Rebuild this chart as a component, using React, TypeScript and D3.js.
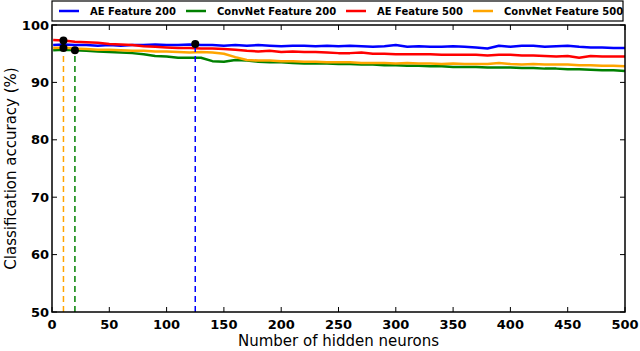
import * as d3 from "d3";

// nombre de neurones cachés (échantillonné tous les 10)
const neurons = [1, 10, 20, 30, 40, 50, 60, 70, 80, 90, 100, 110, 120, 130, 140, 150, 160, 170, 180, 190, 200,
  210, 220, 230, 240, 250, 260, 270, 280, 290, 300, 310, 320, 330, 340, 350, 360, 370, 380, 390, 400,
  410, 420, 430, 440, 450, 460, 470, 480, 490, 500];

const ae200 = [96.5, 96.6, 96.5, 96.5, 96.4, 96.5, 96.4, 96.5, 96.5, 96.6, 96.5, 96.5, 96.6, 96.5, 96.5, 96.4, 96.5, 96.4, 96.5, 96.4, 96.3,
  96.4, 96.4, 96.3, 96.4, 96.3, 96.4, 96.3, 96.2, 96.3, 96.5, 96.2, 96.3, 96.2, 96.2, 96.3, 96.2, 96.1, 95.9, 96.4, 96.2,
  96.4, 96.4, 96.2, 96.3, 96.4, 96.2, 96.1, 96.1, 96.0, 96.0];

const convnet200 = [95.6, 95.7, 95.6, 95.5, 95.4, 95.3, 95.2, 95.1, 94.9, 94.6, 94.5, 94.3, 94.3, 94.3, 93.7, 93.6, 93.9, 93.8, 93.6, 93.5, 93.5,
  93.4, 93.3, 93.3, 93.3, 93.2, 93.2, 93.1, 93.1, 93.0, 93.0, 92.9, 92.9, 92.8, 92.8, 92.7, 92.7, 92.7, 92.6, 92.6, 92.6,
  92.5, 92.5, 92.4, 92.4, 92.3, 92.3, 92.2, 92.1, 92.1, 92.0];

const ae500 = [97.4, 97.3, 97.1, 97.0, 96.9, 96.7, 96.6, 96.5, 96.3, 96.2, 96.1, 96.0, 96.0, 95.9, 95.9, 95.8, 95.7, 95.5, 95.4, 95.5, 95.3,
  95.4, 95.3, 95.3, 95.2, 95.1, 95.1, 95.2, 95.0, 95.0, 94.9, 94.9, 94.9, 94.9, 94.8, 94.8, 94.8, 94.8, 94.7, 94.8, 94.8,
  94.7, 94.7, 94.6, 94.5, 94.6, 94.3, 94.6, 94.5, 94.5, 94.5];

const convnet500 = [96.0, 96.1, 95.9, 95.8, 95.7, 95.7, 95.6, 95.5, 95.5, 95.4, 95.4, 95.3, 95.2, 95.3, 95.2, 95.0, 94.4, 93.9, 93.8, 93.8, 93.7,
  93.7, 93.6, 93.6, 93.5, 93.5, 93.5, 93.4, 93.4, 93.4, 93.3, 93.4, 93.3, 93.3, 93.2, 93.3, 93.2, 93.2, 93.2, 93.4, 93.2,
  93.1, 93.2, 93.1, 93.1, 93.1, 93.0, 93.0, 92.9, 92.9, 92.8];

const seriesNames = ["AE Feature 200", "ConvNet Feature 200", "AE Feature 500", "ConvNet Feature 500"];
const seriesColors = ["#0000ff", "#008000", "#ff0000", "#ffa500"];
const seriesValues = [ae200, convnet200, ae500, convnet500];

// meilleurs points (maximum de chaque courbe)
const bestX = [125, 20, 10, 10];
const bestY = [96.7, 95.6, 97.3, 96.0];
// la ligne rouge est cachée sous l'orange (même x)
const dashedSeries = [0, 1, 3];

const xTicks = [0, 50, 100, 150, 200, 250, 300, 350, 400, 450, 500];
const yTicks = [50, 60, 70, 80, 90, 100];

const width = 640;
const height = 351;
const margin = { top: 25, right: 15, bottom: 39, left: 52 };
const font = "'DejaVu Sans', sans-serif";

export default function App() {
  const x = d3.scaleLinear().domain([0, 500]).range([margin.left, width - margin.right]);
  const y = d3.scaleLinear().domain([50, 100]).range([height - margin.bottom, margin.top]);

  const line = d3.line<number>()
    .x((_, i) => x(neurons[i]))
    .y(d => y(d));

  const legendX = [59, 186, 346, 473];

  return (
    <svg width={width} height={height} style={{ position: "absolute", left: 0, top: 0 }} fontFamily={font}>
      <rect width={width} height={height} fill="white" />

      {/* courbes */}
      {seriesValues.map((vals, i) => (
        <path key={i} d={line(vals) ?? ""} fill="none" stroke={seriesColors[i]} strokeWidth={2.5} strokeLinejoin="round" />
      ))}

      {/* lignes pointillées des meilleurs points */}
      {dashedSeries.map(i => (
        <line key={i} x1={x(bestX[i])} x2={x(bestX[i])} y1={y(50)} y2={y(bestY[i])}
          stroke={seriesColors[i]} strokeWidth={1.5} strokeDasharray="6,4" />
      ))}
      {bestX.map((bx, i) => (
        <circle key={i} cx={x(bx)} cy={y(bestY[i])} r={4} fill="black" />
      ))}

      {/* cadre et graduations */}
      <rect x={x(0)} y={y(100)} width={x(500) - x(0)} height={y(50) - y(100)} fill="none" stroke="black" strokeWidth={1.5} />
      {xTicks.map(t => (
        <g key={t}>
          <line x1={x(t)} x2={x(t)} y1={y(50)} y2={y(50) - 5} stroke="black" />
          <line x1={x(t)} x2={x(t)} y1={y(100)} y2={y(100) + 5} stroke="black" />
          <text x={x(t)} y={329} textAnchor="middle" fontSize={13} fontWeight="bold">{t}</text>
        </g>
      ))}
      {yTicks.map(t => (
        <g key={t}>
          <line x1={x(0)} x2={x(0) + 5} y1={y(t)} y2={y(t)} stroke="black" />
          <line x1={x(500)} x2={x(500) - 5} y1={y(t)} y2={y(t)} stroke="black" />
          <text x={49} y={y(t)} dy="0.36em" textAnchor="end" fontSize={13} fontWeight="bold">{t}</text>
        </g>
      ))}

      <text x={(x(0) + x(500)) / 2} y={346} textAnchor="middle" fontSize={15}>Number of hidden neurons</text>
      <text transform={`translate(16,${(y(50) + y(100)) / 2}) rotate(-90)`} textAnchor="middle" fontSize={15}>
        Classification accuracy (%)
      </text>

      {/* légende */}
      <rect x={52} y={1} width={571} height={20} fill="white" stroke="black" strokeWidth={1.2} />
      {seriesNames.map((name, i) => (
        <g key={name}>
          <line x1={legendX[i]} x2={legendX[i] + 20} y1={11} y2={11} stroke={seriesColors[i]} strokeWidth={2.5} />
          <text x={legendX[i] + 31} y={11} dy="0.36em" fontSize={10} fontWeight="bold">{name}</text>
        </g>
      ))}
    </svg>
  );
}
